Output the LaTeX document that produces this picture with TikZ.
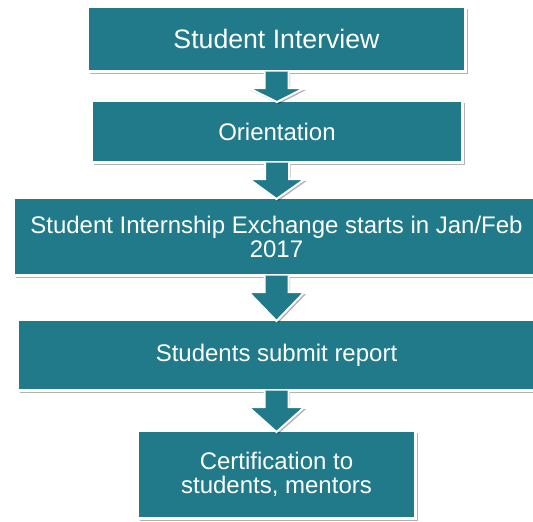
\documentclass[tikz,border=0pt]{standalone}
\usepackage{fontspec}
\setmainfont{Liberation Sans}
\usetikzlibrary{shapes,positioning,calc,shadows}

\definecolor{flowteal}{RGB}{33,122,138}

% Block arrow from the bottom of one stage to the top of the next
\newcommand{\flowarrow}[2]{%
    \coordinate (arrowtop) at ($(#1.south)+(0,-1.5)$);
    \coordinate (arrowbase) at ($(#1.south)+(0,15)$);
    \coordinate (arrowtip) at ($(#2.north)+(0,3)$);
    \fill[flowfill]
        ($(arrowtop)+(-\shaft,0)$) -- ($(arrowbase)+(-\shaft,0)$)
        -- ($(arrowbase)+(-\head,0)$) -- (arrowtip)
        -- ($(arrowbase)+(\head,0)$) -- ($(arrowbase)+(\shaft,0)$)
        -- ($(arrowtop)+(\shaft,0)$) -- cycle;
    \draw[flowedge]
        ($(arrowtop)+(-\shaft,0)$) -- ($(arrowbase)+(-\shaft,0)$)
        -- ($(arrowbase)+(-\head,0)$) -- (arrowtip)
        -- ($(arrowbase)+(\head,0)$) -- ($(arrowbase)+(\shaft,0)$)
        -- ($(arrowtop)+(\shaft,0)$);
}

\begin{document}
\begin{tikzpicture}[x=0.75pt, y=-0.75pt]
        % Slide measured in pixels, y runs downwards
        \pgfmathsetmacro{\px}{0.75}
        \pgfmathsetmacro{\midx}{276.5}
        \pgfmathsetmacro{\shaft}{12}
        \pgfmathsetmacro{\head}{28}

        \tikzset{
            stage/.style={rectangle, fill=flowteal, draw=white, line width=2.25pt,
                text=white, align=center, inner sep=0pt,
                font=\fontsize{18}{18}\selectfont,
                drop shadow={shadow xshift=1.8pt, shadow yshift=-2pt,
                    opacity=0.3, fill=black}},
            flowfill/.style={fill=flowteal,
                drop shadow={shadow xshift=1.2pt, shadow yshift=-1.5pt,
                    opacity=0.3, fill=black}},
            flowedge/.style={draw=white, line width=1.5pt, line join=miter},
        }

        \useasboundingbox (0,0) rectangle (533,522);

        % Stages of the exchange
        \node[stage, minimum width=378*\px pt, minimum height=65*\px pt]
            (interview) at (\midx, 39) {\fontsize{20}{20}\selectfont Student Interview};
        \node[stage, minimum width=371*\px pt, minimum height=62*\px pt]
            (orientation) at (277, 131.5) {Orientation};
        \node[stage, minimum width=526*\px pt, minimum height=78*\px pt]
            (exchange) at (\midx, 236.5) {Student Internship Exchange starts in Jan/Feb\\2017};
        \node[stage, minimum width=518*\px pt, minimum height=71*\px pt]
            (report) at (\midx, 355) {Students submit report};
        \node[stage, minimum width=278*\px pt, minimum height=88*\px pt]
            (certification) at (\midx, 474.5) {Certification to\\students, mentors};

        % Arrows between the stages
        \flowarrow{interview}{orientation}
        \flowarrow{orientation}{exchange}
        \flowarrow{exchange}{report}
        \flowarrow{report}{certification}
\end{tikzpicture}
\end{document}
